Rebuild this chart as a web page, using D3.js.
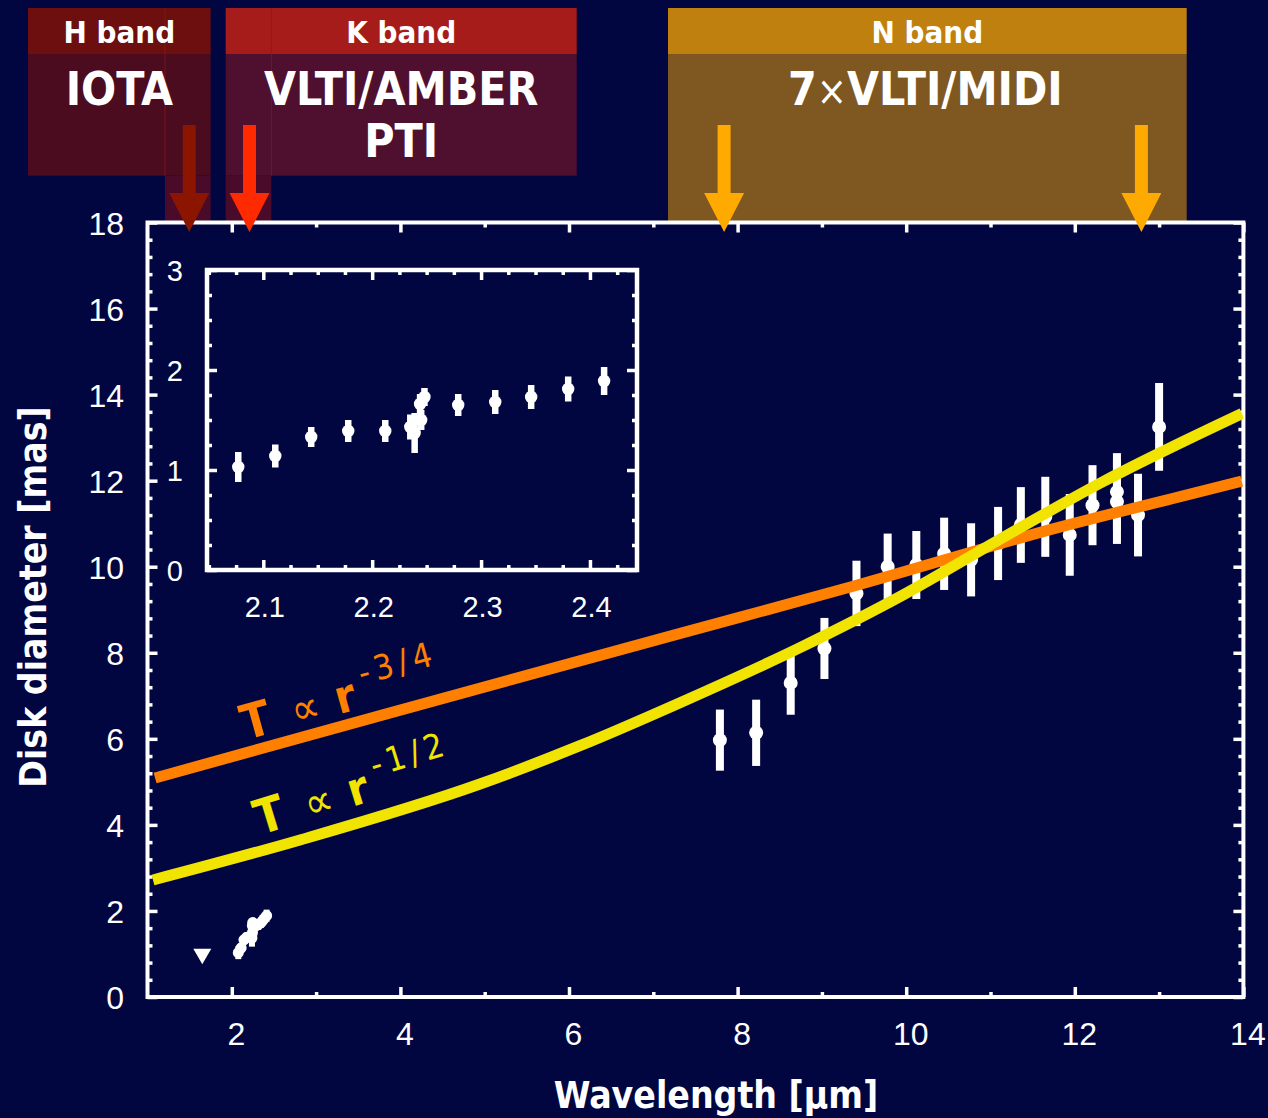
<!DOCTYPE html>
<html><head><meta charset="utf-8">
<script src="https://cdn.jsdelivr.net/npm/d3@7"></script>
<style>
html,body{margin:0;padding:0;background:#010641;}
svg{display:block;}
.lab{font-family:'DejaVu Sans Condensed','DejaVu Sans',sans-serif;font-weight:bold;font-stretch:condensed;}
.num{font-family:'Liberation Sans',Arial,sans-serif;}
</style></head><body>
<svg id="c" width="1268" height="1118"></svg>
<script>
// ---------------- data ----------------
// K band (AMBER/PTI), wavelength in micron, uniform-disk diameter in mas
const kWavelength = [2.077, 2.111, 2.144, 2.178, 2.212, 2.235, 2.239, 2.245, 2.244, 2.248, 2.279, 2.313, 2.346, 2.380, 2.413];
const kDiameter   = [1.03, 1.14, 1.33, 1.39, 1.39, 1.43, 1.37, 1.50, 1.66, 1.73, 1.65, 1.68, 1.73, 1.81, 1.89];
const kError      = [0.15, 0.115, 0.10, 0.11, 0.11, 0.125, 0.20, 0.10, 0.10, 0.09, 0.11, 0.12, 0.12, 0.125, 0.14];
// N band (MIDI)
const nWavelength = [7.79, 8.22, 8.63, 9.03, 9.41, 9.78, 10.12, 10.45, 10.77, 11.09, 11.36, 11.65, 11.94, 12.21, 12.50, 12.50, 12.75, 13.00];
const nDiameter   = [5.97, 6.14, 7.30, 8.10, 9.38, 10.00, 10.04, 10.30, 10.16, 10.54, 10.97, 11.16, 10.74, 11.43, 11.74, 11.51, 11.20, 13.25];
const nError      = [0.71, 0.77, 0.74, 0.71, 0.76, 0.77, 0.79, 0.84, 0.85, 0.85, 0.88, 0.93, 0.95, 0.93, 0.90, 0.98, 0.96, 1.02];
// H band (IOTA) upper limit
const hWavelength = [1.65];
const hDiameter   = [1.0];
// model curves
const q34Wavelength = [1.09, 3.76, 7.32, 9.36, 11.82, 13.25, 13.98];
const q34Diameter   = [5.09, 6.54, 8.45, 9.54, 10.92, 11.63, 11.99];
const q12Wavelength = [1.065, 2.809, 4.944, 6.130, 7.317, 8.740, 9.986, 11.113, 12.299, 13.983];
const q12Diameter   = [2.72, 3.65, 4.95, 5.84, 6.84, 8.12, 9.37, 10.64, 11.94, 13.56];
// band arrows
const arrowWavelength = [1.495, 2.21, 7.84, 12.79];
// tick labels
const xTicks = [2, 4, 6, 8, 10, 12, 14];
const yTicks = [0, 2, 4, 6, 8, 10, 12, 14, 16, 18];
const insetXTicks = [2.1, 2.2, 2.3, 2.4];
const insetYTicks = [0, 1, 2, 3];
// band boxes text
const bandNames = ['H band', 'K band', 'N band'];
const instrumentLines = [['IOTA'], ['VLTI/AMBER', 'PTI'], ['7×VLTI/MIDI']];

// ---------------- layout / style ----------------
const BG = '#010641';
const svg = d3.select('#c');
svg.append('rect').attr('width', 1268).attr('height', 1118).attr('fill', BG);

const x = d3.scaleLinear().domain([1, 14]).range([147.5, 1243.4]);
const y = d3.scaleLinear().domain([0, 18]).range([997, 222.5]);
const ix = d3.scaleLinear().domain([2.0483, 2.4432]).range([207, 637]);
const iy = d3.scaleLinear().domain([0, 3]).range([570, 270]);

// ---- band boxes ----
const boxLayout = [
  {x0: 28, x1: 210.6, yb: 175.7, hc: '#6e0f0f', bc: '#4b0c1f', col: [165, 210.6], edge: 165},
  {x0: 225.7, x1: 576.7, yb: 175.7, hc: '#a51c1a', bc: '#4f1030', col: [225.7, 271.4], edge: 271.4},
  {x0: 668, x1: 1186.7, yb: 224, hc: '#c0800f', bc: '#7f5720', col: null}
];
const boxes = svg.append('g');
boxLayout.forEach((b, i) => {
  boxes.append('rect').attr('x', b.x0).attr('y', 54).attr('width', b.x1 - b.x0).attr('height', b.yb - 54).attr('fill', b.bc);
  boxes.append('rect').attr('x', b.x0).attr('y', 8).attr('width', b.x1 - b.x0).attr('height', 46).attr('fill', b.hc);
  if (b.col) {
    boxes.append('rect').attr('x', b.col[0]).attr('y', b.yb).attr('width', b.col[1] - b.col[0]).attr('height', 221 - b.yb).attr('fill', '#4a0b2b');
    boxes.append('line').attr('x1', b.edge).attr('x2', b.edge).attr('y1', 8).attr('y2', b.yb)
      .attr('stroke', '#8a1a1a').attr('stroke-width', 1).attr('opacity', 0.7);
  }
  const cx = (b.x0 + b.x1) / 2;
  boxes.append('text').attr('class', 'lab').attr('x', cx).attr('y', 43.3).attr('text-anchor', 'middle')
    .attr('font-size', 31).attr('fill', '#fff').text(bandNames[i]);
  instrumentLines[i].forEach((t, j) => {
    const tx = boxes.append('text').attr('class', 'lab').attr('x', cx + (i === 2 ? -2 : 0)).attr('y', 105 + j * 51.5)
      .attr('text-anchor', 'middle').attr('font-size', 46).attr('fill', '#fff');
    if (t.includes('×')) {
      const parts = t.split('×');
      tx.append('tspan').text(parts[0]);
      tx.append('tspan').attr('font-size', 40).attr('font-weight', 'normal').text('×');
      tx.append('tspan').text(parts[1]);
    } else tx.text(t);
  });
});

// ---- main frame & axes ----
const plot = svg.append('g');
plot.append('rect').attr('x', x(1)).attr('y', y(18)).attr('width', x(14) - x(1)).attr('height', y(0) - y(18))
  .attr('fill', 'none').attr('stroke', '#fff').attr('stroke-width', 4);

function styleAxis(g) {
  g.select('.domain').remove();
  g.selectAll('line').attr('stroke', '#fff').attr('stroke-width', 3.5);
  g.selectAll('text').attr('fill', '#fff');
}
const xMinor = [3, 5, 7, 9, 11, 13];
const yMinor = d3.range(1, 45).filter(i => i % 5 !== 0).map(i => +(i * 0.4).toFixed(1));

plot.append('g').attr('transform', `translate(0,${y(0)})`)
  .call(d3.axisBottom(x).tickValues(xTicks).tickSize(-10).tickFormat(d3.format('d')))
  .call(styleAxis)
  .call(g => g.selectAll('text').attr('class', 'num').attr('font-size', 32).attr('y', 48).attr('dy', 0).attr('dx', 4));
plot.append('g').attr('transform', `translate(0,${y(0)})`)
  .call(d3.axisBottom(x).tickValues(xMinor).tickSize(-5).tickFormat('')).call(styleAxis);
plot.append('g').attr('transform', `translate(0,${y(18)})`)
  .call(d3.axisTop(x).tickValues(xTicks).tickSize(-10).tickFormat('')).call(styleAxis);
plot.append('g').attr('transform', `translate(0,${y(18)})`)
  .call(d3.axisTop(x).tickValues(xMinor).tickSize(-5).tickFormat('')).call(styleAxis);
plot.append('g').attr('transform', `translate(${x(1)},0)`)
  .call(d3.axisLeft(y).tickValues(yTicks).tickSize(-10).tickFormat(d3.format('d')))
  .call(styleAxis)
  .call(g => g.selectAll('text').attr('class', 'num').attr('font-size', 32).attr('x', -23.5).attr('dy', '0.36em'));
plot.append('g').attr('transform', `translate(${x(1)},0)`)
  .call(d3.axisLeft(y).tickValues(yMinor).tickSize(-5).tickFormat('')).call(styleAxis);
plot.append('g').attr('transform', `translate(${x(14)},0)`)
  .call(d3.axisRight(y).tickValues(yTicks).tickSize(-10).tickFormat('')).call(styleAxis);
plot.append('g').attr('transform', `translate(${x(14)},0)`)
  .call(d3.axisRight(y).tickValues(yMinor).tickSize(-5).tickFormat('')).call(styleAxis);

// axis titles
svg.append('text').attr('class', 'lab').attr('x', 716).attr('y', 1108).attr('text-anchor', 'middle')
  .attr('font-size', 37).attr('fill', '#fff').text('Wavelength [μm]');
svg.append('text').attr('class', 'lab').attr('transform', 'translate(46,597) rotate(-90)').attr('text-anchor', 'middle')
  .attr('font-size', 37).attr('fill', '#fff').text('Disk diameter [mas]');

// ---- inset ----
const inset = svg.append('g');
inset.append('rect').attr('x', ix.range()[0]).attr('y', iy(3)).attr('width', ix.range()[1] - ix.range()[0]).attr('height', iy(0) - iy(3))
  .attr('fill', BG).attr('stroke', '#fff').attr('stroke-width', 4.5);
const ixMinor = d3.range(0, 17).map(i => +(2.05 + i * 0.025).toFixed(3)).filter(v => !insetXTicks.some(t => Math.abs(t - v) < 1e-6) && v < 2.443);
const iyMinor = d3.range(1, 12).filter(i => i % 4 !== 0).map(i => i * 0.25);
inset.append('g').attr('transform', `translate(0,${iy(0)})`)
  .call(d3.axisBottom(ix).tickValues(insetXTicks).tickSize(-10).tickFormat(d3.format('.1f')))
  .call(styleAxis)
  .call(g => g.selectAll('text').attr('class', 'num').attr('font-size', 29).attr('y', 47).attr('dy', 0).attr('dx', 1));
inset.append('g').attr('transform', `translate(0,${iy(0)})`)
  .call(d3.axisBottom(ix).tickValues(ixMinor).tickSize(-5).tickFormat('')).call(styleAxis);
inset.append('g').attr('transform', `translate(0,${iy(3)})`)
  .call(d3.axisTop(ix).tickValues(insetXTicks).tickSize(-10).tickFormat('')).call(styleAxis);
inset.append('g').attr('transform', `translate(0,${iy(3)})`)
  .call(d3.axisTop(ix).tickValues(ixMinor).tickSize(-5).tickFormat('')).call(styleAxis);
inset.append('g').attr('transform', `translate(${ix.range()[0]},0)`)
  .call(d3.axisLeft(iy).tickValues(insetYTicks).tickSize(-10).tickFormat(d3.format('d')))
  .call(styleAxis)
  .call(g => g.selectAll('text').attr('class', 'num').attr('font-size', 29).attr('x', -24).attr('dy', '0.36em'));
inset.append('g').attr('transform', `translate(${ix.range()[0]},0)`)
  .call(d3.axisLeft(iy).tickValues(iyMinor).tickSize(-5).tickFormat('')).call(styleAxis);
inset.append('g').attr('transform', `translate(${ix.range()[1]},0)`)
  .call(d3.axisRight(iy).tickValues(insetYTicks).tickSize(-10).tickFormat('')).call(styleAxis);
inset.append('g').attr('transform', `translate(${ix.range()[1]},0)`)
  .call(d3.axisRight(iy).tickValues(iyMinor).tickSize(-5).tickFormat('')).call(styleAxis);

function drawPoints(g, xs, ys, es, sx, sy, bw, r) {
  const data = xs.map((v, i) => ({x: v, y: ys[i], e: es[i]}));
  g.selectAll(null).data(data).enter().append('rect')
    .attr('x', d => sx(d.x) - bw / 2).attr('y', d => sy(d.y + d.e))
    .attr('width', bw).attr('height', d => sy(d.y - d.e) - sy(d.y + d.e)).attr('fill', '#fff');
  g.selectAll(null).data(data).enter().append('circle')
    .attr('cx', d => sx(d.x)).attr('cy', d => sy(d.y)).attr('r', r).attr('fill', '#fff');
}
drawPoints(inset.append('g'), kWavelength, kDiameter, kError, ix, iy, 6.5, 6.2);

// ---- main data ----
const dataG = svg.append('g');
drawPoints(dataG.append('g'), kWavelength, kDiameter, kError, x, y, 6, 5.5);
drawPoints(dataG.append('g'), nWavelength, nDiameter, nError, x, y, 8, 7);
dataG.selectAll(null).data(hWavelength.map((v, i) => ({x: v, y: hDiameter[i]}))).enter().append('path')
  .attr('d', d3.symbol(d3.symbolTriangle, 140))
  .attr('transform', d => `translate(${x(d.x)},${y(d.y)}) rotate(180)`).attr('fill', '#fff');

// ---- model curves ----
svg.append('clipPath').attr('id', 'clip').append('rect')
  .attr('x', x(1)).attr('y', y(18)).attr('width', x(14) - x(1)).attr('height', y(0) - y(18));
const line = d3.line().x(d => x(d[0])).y(d => y(d[1])).curve(d3.curveMonotoneX);
const curves = svg.append('g').attr('clip-path', 'url(#clip)');
curves.append('path').datum(q34Wavelength.map((v, i) => [v, q34Diameter[i]])).attr('d', line)
  .attr('fill', 'none').attr('stroke', '#ff7f00').attr('stroke-width', 11);
curves.append('path').datum(q12Wavelength.map((v, i) => [v, q12Diameter[i]])).attr('d', line)
  .attr('fill', 'none').attr('stroke', '#f0e400').attr('stroke-width', 11);

// curve labels
function curveLabel(tx, ty, ang, color, sup) {
  const t = svg.append('text').attr('class', 'lab').attr('transform', `translate(${tx},${ty}) rotate(${ang})`).attr('fill', color);
  t.append('tspan').attr('font-size', 48).text('T');
  t.append('tspan').attr('font-size', 44).attr('font-weight', 'normal').attr('dx', 22).text('∝');
  t.append('tspan').attr('font-size', 46).attr('dx', 17).text('r');
  t.append('tspan').attr('font-size', 34).attr('font-weight', 'normal').attr('dx', 9).attr('dy', -22).attr('letter-spacing', 5).text(sup);
}
curveLabel(246, 740, -15.5, '#ff7f00', '-3/4');
curveLabel(260, 835, -17, '#f0e400', '-1/2');

// ---- arrows ----
const arrowColors = ['#8c1500', '#ff2a00', '#ffaa00', '#ffaa00'];
svg.append('g').selectAll('path').data(arrowWavelength).enter().append('path')
  .attr('d', d => {
    const c = x(d);
    return `M${c - 6.5},125 L${c + 6.5},125 L${c + 6.5},193 L${c + 20},193 L${c},232 L${c - 20},193 L${c - 6.5},193 Z`;
  })
  .attr('fill', (d, i) => arrowColors[i]);
</script>
</body></html>
